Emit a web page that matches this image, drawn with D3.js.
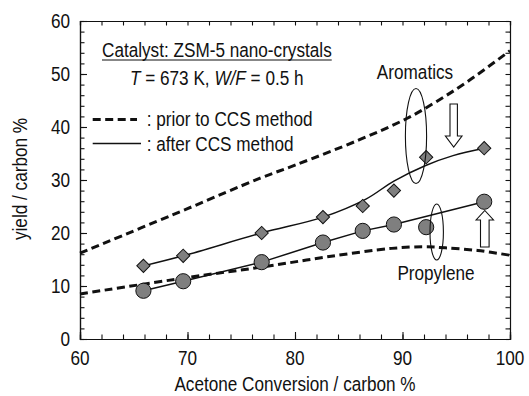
<!DOCTYPE html>
<html>
<head>
<meta charset="utf-8">
<script src="https://cdn.jsdelivr.net/npm/d3@7"></script>
<style>
  html, body { margin: 0; padding: 0; background: #fff; }
  svg { display: block; }
  text { font-family: "Liberation Sans", Arial, Helvetica, sans-serif; fill: #111; }
</style>
</head>
<body>
<svg id="chart" width="529" height="396"></svg>
<script>
// Measured yields (carbon %) vs acetone conversion over ZSM-5 nano-crystals
const conversion = [65.9, 69.6, 76.9, 82.6, 86.3, 89.2, 92.2, 97.6];
const aromatics  = [13.8, 15.7, 20.0, 23.0, 25.1, 28.0, 34.3, 36.0];
const propylene  = [9.1, 10.9, 14.5, 18.2, 20.4, 21.6, 21.1, 25.9];

// Trend after the CCS method
const aromaticsAfterX = [65.9, 69.6, 76.9, 82.6, 86.6, 89.2, 92.1, 94.7, 97.6];
const aromaticsAfterY = [13.8, 15.7, 20.0, 23.0, 26.4, 29.8, 32.7, 34.6, 36.0];
const propyleneAfterX = [65.9, 69.6, 76.9, 82.6, 86.3, 89.2, 97.6];
const propyleneAfterY = [9.1, 10.9, 14.5, 18.2, 20.4, 21.6, 25.9];

// Trend prior to the CCS method
const aromaticsPriorX = [60, 70, 76.7, 80, 86, 90.4, 93, 96, 100];
const aromaticsPriorY = [16.2, 24.6, 30.3, 32.8, 37.6, 41.6, 44.6, 48.5, 54.4];
const propylenePriorX = [60, 70, 77, 83, 89, 92, 94, 97, 100];
const propylenePriorY = [8.5, 11.6, 13.6, 15.5, 17.1, 17.4, 17.2, 16.7, 15.8];

// Axis ticks
const xTicks = [60, 70, 80, 90, 100];
const yTicks = [0, 10, 20, 30, 40, 50, 60];
const xMinor = d3.range(60, 100.01, 2);
const yMinor = d3.range(0, 60.01, 2);

const svg = d3.select("#chart");
const plotL = 80, plotR = 510, plotT = 21, plotB = 339;
const x = d3.scaleLinear().domain([60, 100]).range([plotL, plotR]);
const y = d3.scaleLinear().domain([0, 60]).range([plotB, plotT]);

// condensed lettering: a larger face squeezed horizontally
const FS = 19.5, SX = 0.88;
function label(px, py, str, anchor = "start", rot = 0) {
  return svg.append("text")
    .attr("transform", `translate(${px},${py}) rotate(${rot}) scale(${SX},1)`)
    .attr("text-anchor", anchor).attr("font-size", FS)
    .text(str);
}

// ---- frame and ticks (all pointing inward) ----
function styleAxis(g) {
  g.selectAll("path.domain").attr("stroke", "#111").attr("stroke-width", 1.2);
  g.selectAll(".tick line").attr("stroke", "#111").attr("stroke-width", 1.1);
}
const noLab = () => "";

svg.append("g").attr("transform", `translate(0,${plotB})`)
  .call(d3.axisBottom(x).tickValues(xMinor).tickSize(-4.5).tickFormat(noLab)).call(styleAxis);
svg.append("g").attr("transform", `translate(0,${plotB})`)
  .call(d3.axisBottom(x).tickValues(xTicks).tickSize(-7).tickFormat(noLab)).call(styleAxis);
svg.append("g").attr("transform", `translate(0,${plotT})`)
  .call(d3.axisTop(x).tickValues(xMinor).tickSize(-4.5).tickFormat(noLab)).call(styleAxis);
svg.append("g").attr("transform", `translate(${plotL},0)`)
  .call(d3.axisLeft(y).tickValues(yMinor).tickSize(-4.5).tickFormat(noLab)).call(styleAxis);
svg.append("g").attr("transform", `translate(${plotL},0)`)
  .call(d3.axisLeft(y).tickValues(yTicks).tickSize(-7).tickFormat(noLab)).call(styleAxis);
svg.append("g").attr("transform", `translate(${plotR},0)`)
  .call(d3.axisRight(y).tickValues(yMinor).tickSize(-4.5).tickFormat(noLab)).call(styleAxis);

// tick labels
xTicks.forEach(d => label(x(d), 365, d, "middle"));
yTicks.forEach(d => label(70, y(d) + 7, d, "end"));

// axis titles
label(295, 390.5, "Acetone Conversion / carbon %", "middle");
label(27, 179, "yield / carbon %", "middle", -90);

// ---- curves ----
const line = d3.line().x(d => x(d[0])).y(d => y(d[1]));
const zip = (a, b) => a.map((v, i) => [v, b[i]]);

svg.append("path").datum(zip(aromaticsPriorX, aromaticsPriorY))
  .attr("d", line.curve(d3.curveCatmullRom.alpha(0.5)))
  .attr("fill", "none").attr("stroke", "#111").attr("stroke-width", 3)
  .attr("stroke-dasharray", "8,4.5");
svg.append("path").datum(zip(propylenePriorX, propylenePriorY))
  .attr("d", line.curve(d3.curveCatmullRom.alpha(0.5)))
  .attr("fill", "none").attr("stroke", "#111").attr("stroke-width", 3)
  .attr("stroke-dasharray", "8,4.5");

svg.append("path").datum(zip(aromaticsAfterX, aromaticsAfterY))
  .attr("d", line.curve(d3.curveCatmullRom.alpha(0.5)))
  .attr("fill", "none").attr("stroke", "#111").attr("stroke-width", 1.5);
svg.append("path").datum(zip(propyleneAfterX, propyleneAfterY))
  .attr("d", line.curve(d3.curveLinear))
  .attr("fill", "none").attr("stroke", "#111").attr("stroke-width", 1.5);

// ---- markers ----
const diamond = d3.symbol().type(d3.symbolSquare).size(88);
svg.append("g").selectAll("path").data(zip(conversion, aromatics)).join("path")
  .attr("d", diamond)
  .attr("transform", d => `translate(${x(d[0])},${y(d[1])}) rotate(45)`)
  .attr("fill", "#7f7f7f").attr("stroke", "#111").attr("stroke-width", 1);
svg.append("g").selectAll("circle").data(zip(conversion, propylene)).join("circle")
  .attr("cx", d => x(d[0])).attr("cy", d => y(d[1])).attr("r", 7.6)
  .attr("fill", "#7f7f7f").attr("stroke", "#111").attr("stroke-width", 1);

// ---- annotations ----
svg.append("ellipse").attr("cx", 416).attr("cy", 136).attr("rx", 10.6).attr("ry", 47.5)
  .attr("fill", "none").attr("stroke", "#111").attr("stroke-width", 1.1);
svg.append("ellipse").attr("cx", 436.7).attr("cy", 232).attr("rx", 6.7).attr("ry", 28)
  .attr("fill", "none").attr("stroke", "#111").attr("stroke-width", 1.1);

label(415, 79, "Aromatics", "middle");
label(436, 280, "Propylene", "middle");

// hollow arrows: down (aromatics) and up (propylene)
function arrow(cx, yTail, yHeadBase, yTip, shaftHalf, headHalf) {
  const pts = [
    [cx - shaftHalf, yTail], [cx + shaftHalf, yTail], [cx + shaftHalf, yHeadBase],
    [cx + headHalf, yHeadBase], [cx, yTip], [cx - headHalf, yHeadBase],
    [cx - shaftHalf, yHeadBase]
  ];
  svg.append("path").attr("d", "M" + pts.join("L") + "Z")
    .attr("fill", "#fff").attr("stroke", "#111").attr("stroke-width", 1.1);
}
arrow(453.7, 104, 136, 147, 3.7, 8.3);
arrow(484.8, 247, 220, 210.5, 4.3, 8.7);

// ---- conditions and legend ----
const title = label(102, 57, "Catalyst: ZSM-5 nano-crystals");
const tw = title.node().getComputedTextLength() * SX;
svg.append("line").attr("x1", 102).attr("x2", 102 + tw).attr("y1", 60).attr("y2", 60)
  .attr("stroke", "#111").attr("stroke-width", 1.2);

const cond = label(130, 85, "");
cond.append("tspan").attr("font-style", "italic").text("T");
cond.append("tspan").text(" = 673 K, ");
cond.append("tspan").attr("font-style", "italic").text("W/F");
cond.append("tspan").text(" = 0.5 h");

svg.append("line").attr("x1", 92.7).attr("x2", 137).attr("y1", 119.5).attr("y2", 119.5)
  .attr("stroke", "#111").attr("stroke-width", 3).attr("stroke-dasharray", "8,4.5");
label(146.7, 125.5, ": prior to CCS method");
svg.append("line").attr("x1", 92.7).attr("x2", 141).attr("y1", 143.5).attr("y2", 143.5)
  .attr("stroke", "#111").attr("stroke-width", 1.3);
label(146.7, 150.5, ": after CCS method");
</script>
</body>
</html>
